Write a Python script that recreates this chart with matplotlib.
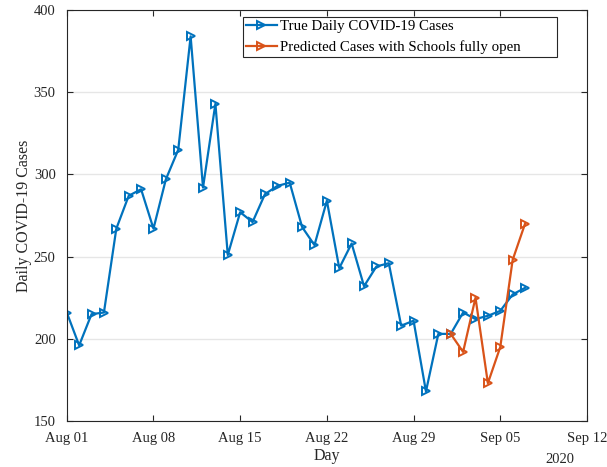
import matplotlib
matplotlib.use('Agg')
import matplotlib.pyplot as plt
import matplotlib.dates as mdates
from matplotlib.patches import Rectangle
import numpy as np

# Data
true_cases = [216, 196, 215, 216, 267, 287, 291, 267, 297, 315, 384, 292, 343,
              251, 277, 271, 288, 293, 295, 268, 257, 284, 243, 258, 232, 244,
              246, 208, 211, 168, 203, 203, 216, 212, 214, 217, 227, 231]
pred_cases = [203, 192, 225, 173, 195, 248, 270]
true_dates = np.arange('2020-08-01', '2020-09-08', dtype='datetime64[D]')
pred_dates = np.arange('2020-09-01', '2020-09-08', dtype='datetime64[D]')
tick_dates = np.arange('2020-08-01', '2020-09-13', 7, dtype='datetime64[D]')

plt.rcParams['font.family'] = ['Liberation Serif', 'DejaVu Serif']

blue = '#0072BD'
orange = '#D95319'
dark = '#262626'

fig = plt.figure(figsize=(6.07, 4.67), dpi=100)
ax = fig.add_axes([0.110, 0.0985, 0.857, 0.880])

ax.plot(true_dates, true_cases, color=blue, lw=1.6, marker='>', ms=5.5,
        mfc='none', mew=1.4, label='True Daily COVID-19 Cases')
ax.plot(pred_dates, pred_cases, color=orange, lw=1.6, marker='>', ms=5.5,
        mfc='none', mew=1.4, label='Predicted Cases with Schools fully open')

ax.set_xlim(np.datetime64('2020-08-01'), np.datetime64('2020-09-12'))
ax.set_ylim(150, 400)
ax.set_xticks(tick_dates)
ax.xaxis.set_major_formatter(mdates.DateFormatter('%b %d'))
ax.set_yticks(np.arange(150, 401, 50))

ax.grid(axis='y', color='#e6e6e6', lw=1)
ax.set_axisbelow(True)
ax.tick_params(direction='in', top=True, right=True, labelsize=10.5,
               color=dark, labelcolor=dark, length=4)
ax.tick_params(axis='y', pad=8)
ax.tick_params(axis='x', pad=8)
for s in ax.spines.values():
    s.set_color(dark)
    s.set_linewidth(0.8)

ax.set_xlabel('Day', fontsize=11.5, labelpad=2, color=dark)
ax.set_ylabel('Daily COVID-19 Cases', fontsize=11.5, labelpad=1, color=dark)
ax.text(0.948, -0.078, '2020', transform=ax.transAxes, ha='center',
        va='top', fontsize=10.5, color=dark)

# legend box drawn separately (MATLAB-style extra space on the right)
ax.add_patch(Rectangle((0.3385, 0.886), 0.604, 0.097, transform=ax.transAxes,
                       facecolor='white', edgecolor=dark, lw=0.8, zorder=4))
leg = ax.legend(loc='upper left', bbox_to_anchor=(0.3385, 0.983), fontsize=10.7,
                frameon=False, handlelength=2.1, handletextpad=0.2,
                borderpad=0.2, labelspacing=0.45, borderaxespad=0)
leg.set_zorder(5)

fig.savefig('out.png', dpi=100)
